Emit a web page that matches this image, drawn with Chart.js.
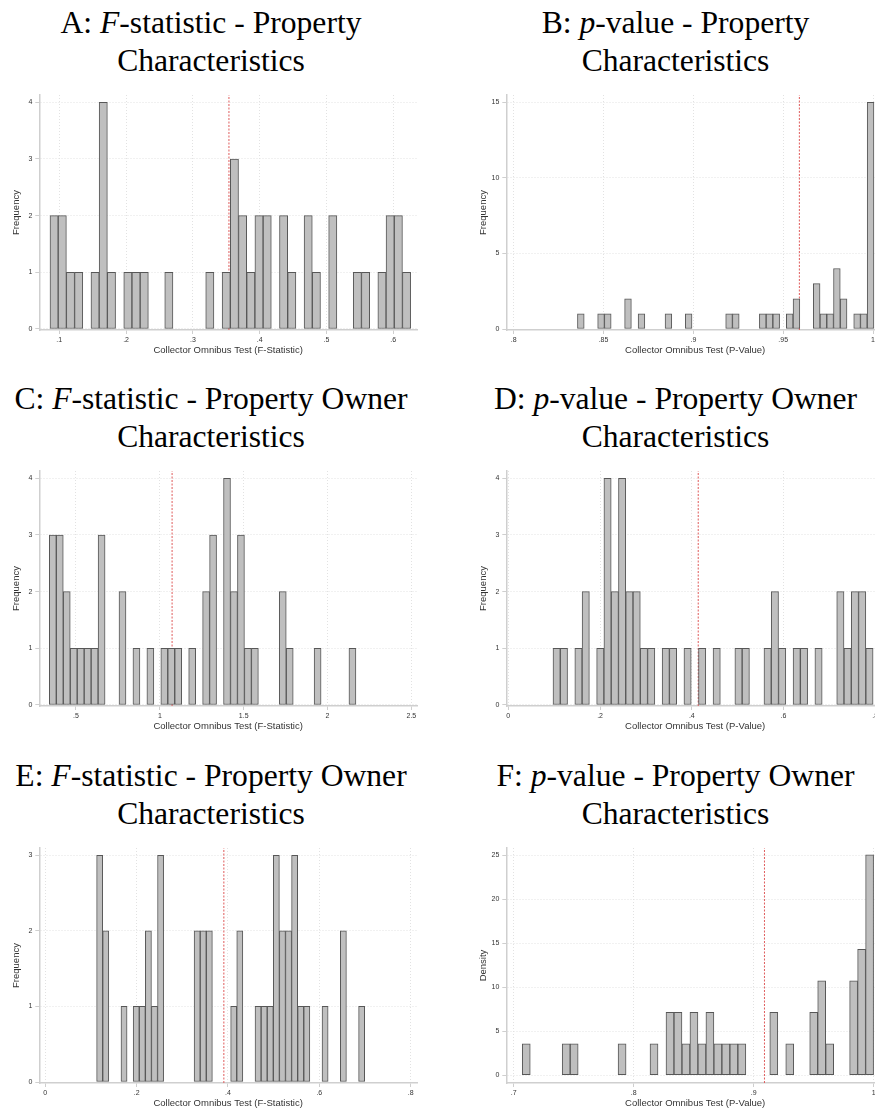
<!DOCTYPE html>
<html lang="en">
<head>
<meta charset="UTF-8">
<title>Collector Omnibus Test - randomization histograms</title>
<script src="https://cdn.jsdelivr.net/npm/chart.js"></script>
<style>
  html, body { margin: 0; padding: 0; background: #fff; overflow: hidden; }
  body { width: 875px; height: 1109px; position: relative; }
  .titulo {
    position: absolute; width: 440px; text-align: center;
    font-family: "Liberation Serif", "Times New Roman", serif;
    font-size: 31.6px; line-height: 38px; color: #000;
  }
  .painel { position: absolute; width: 430px; height: 275px; }
</style>
</head>
<body>

<div class="titulo" style="left:-9px;top:4px">A: <i>F</i>-statistic - Property<br>Characteristics</div>
<div class="titulo" style="left:455.5px;top:4px">B: <i>p</i>-value - Property<br>Characteristics</div>
<div class="titulo" style="left:-9px;top:380px">C: <i>F</i>-statistic - Property Owner<br>Characteristics</div>
<div class="titulo" style="left:455.5px;top:380px">D: <i>p</i>-value - Property Owner<br>Characteristics</div>
<div class="titulo" style="left:-9px;top:757px">E: <i>F</i>-statistic - Property Owner<br>Characteristics</div>
<div class="titulo" style="left:455.5px;top:757px">F: <i>p</i>-value - Property Owner<br>Characteristics</div>

<div class="painel" style="left:0;top:85px"><canvas id="gA"></canvas></div>
<div class="painel" style="left:467.4px;top:85px"><canvas id="gB"></canvas></div>
<div class="painel" style="left:0;top:461px"><canvas id="gC"></canvas></div>
<div class="painel" style="left:467.4px;top:461px"><canvas id="gD"></canvas></div>
<div class="painel" style="left:0;top:838px"><canvas id="gE"></canvas></div>
<div class="painel" style="left:467.4px;top:838px"><canvas id="gF"></canvas></div>

<script>
// histogram bins: [first edge, bin width]; counts per bin
const binsA = [0.0861, 0.01227]
const countsA = [2,2,1,1,0,1,4,1,0,1, 1,1,0,0,1,0,0,0,0,1, 0,1,3,2,1,2,2,0,2,1, 0,2,1,0,2,0,0,1,1,0, 1,2,2,1]
const refA = 0.354
const xTicksA = [0.1, 0.2, 0.3, 0.4, 0.5, 0.6]
const xLabelsA = ['.1', '.2', '.3', '.4', '.5', '.6']
const yTicksA = [0, 1, 2, 3, 4]
const xRangeA = [0.0701, 0.6355]
const yRangeA = [-0.018, 4.129]

const binsB = [0.8355, 0.00375]
const countsB = [1,0,0,1,1,0,0,2,0,1, 0,0,0,1,0,0,1,0,0,0, 0,0,1,1,0,0,0,1,1,1, 0,1,2,0,0,3,1,1,4,2, 0,1,1,15]
const refB = 0.959
const xTicksB = [0.8, 0.85, 0.9, 0.95, 1]
const xLabelsB = ['.8', '.85', '.9', '.95', '1']
const yTicksB = [0, 5, 10, 15]
const xRangeB = [0.7959, 1.0061]
const yRangeB = [-0.066, 15.48]

const binsC = [0.341, 0.04155]
const countsC = [3,3,2,1,1,1,1,3,0,0, 2,0,1,0,1,0,1,1,1,0, 1,0,2,3,0,4,2,3,1,1, 0,0,0,2,1,0,0,0,1,0, 0,0,0,1]
const refC = 1.073
const xTicksC = [0.5, 1, 1.5, 2, 2.5]
const xLabelsC = ['.5', '1', '1.5', '2', '2.5']
const yTicksC = [0, 1, 2, 3, 4]
const xRangeC = [0.2812, 2.5334]
const yRangeC = [-0.018, 4.129]

const binsD = [0.0974, 0.01586]
const countsD = [1,1,0,1,2,0,1,4,2,4, 2,2,1,1,0,1,1,0,1,0, 1,0,1,0,0,1,1,0,0,1, 2,1,0,1,1,0,1,0,0,2, 1,2,2,1]
const refD = 0.414
const xTicksD = [0, 0.2, 0.4, 0.6, 0.8]
const xLabelsD = ['0', '.2', '.4', '.6', '.8']
const yTicksD = [0, 1, 2, 3, 4]
const xRangeD = [-0.0044, 0.819]
const yRangeD = [-0.018, 4.129]

const binsE = [0.1124, 0.01334]
const countsE = [3,2,0,0,1,0,1,1,2,1, 3,0,0,0,0,0,2,2,2,0, 0,0,1,2,0,0,1,1,1,3, 2,2,3,1,1,0,0,1,0,0, 2,0,0,1]
const refE = 0.391
const xTicksE = [0, 0.2, 0.4, 0.6, 0.8]
const xLabelsE = ['0', '.2', '.4', '.6', '.8']
const yTicksE = [0, 1, 2, 3]
const xRangeE = [-0.0131, 0.8139]
const yRangeE = [-0.0132, 3.097]

// panel F is on the density scale
const binsF = [0.7072, 0.006653]
const densityF = [3.58,0,0,0,0,3.58,3.58,0,0,0, 0,0,3.58,0,0,0,3.58,0,7.16,7.16, 3.58,7.16,3.58,7.16,3.58,3.58,3.58,3.58,0,0, 0,7.16,0,3.58,0,0,7.16,10.74,3.58,0, 0,10.74,14.32,25.05]
const refF = 0.909
const xTicksF = [0.7, 0.8, 0.9, 1]
const xLabelsF = ['.7', '.8', '.9', '1']
const yTicksF = [0, 5, 10, 15, 20, 25]
const xRangeF = [0.6939, 1.0086]
const yRangeF = [-0.878, 25.83]

const fonte = '"Liberation Sans", Arial, Helvetica, sans-serif'
const corEixo = '#cfcfcf'
const corGrade = '#e2e2e2'
const corTexto = '#333'

function histograma(id, bins, valores, ref, xTicks, xLabels, yTicks, xRange, yRange, xTitulo, yTitulo) {
  const barras = valores.map((v, i) => ({ x: bins[0] + (i + 0.5) * bins[1], y: v === 0 ? null : v }))
  const eixoComum = {
    type: 'linear',
    offset: false,
    grid: { offset: false, color: corGrade, lineWidth: 1, drawTicks: true, tickLength: 4, tickColor: corEixo, tickWidth: 1 },
    border: { display: true, color: corEixo, width: 1.5, dash: [1, 2] }
  }
  return new Chart(document.getElementById(id), {
    type: 'bar',
    data: {
      datasets: [
        {
          // reference line sits behind the bars
          type: 'line',
          data: [{ x: ref, y: yRange[0] }, { x: ref, y: yRange[1] }],
          borderColor: '#df5b5b',
          borderWidth: 1,
          borderDash: [2, 1.5],
          pointRadius: 0,
          order: 2
        },
        {
          type: 'bar',
          data: barras,
          backgroundColor: '#bfbfbf',
          borderColor: '#575757',
          borderWidth: 1,
          borderSkipped: false,
          barPercentage: 1,
          categoryPercentage: 1,
          order: 1
        }
      ]
    },
    options: {
      responsive: true,
      maintainAspectRatio: false,
      animation: false,
      layout: { padding: { top: 10, right: 13, left: 0, bottom: 0 } },
      plugins: { legend: { display: false }, tooltip: { enabled: false } },
      scales: {
        x: {
          ...eixoComum,
          min: xRange[0],
          max: xRange[1],
          ticks: {
            font: { family: fonte, size: 7 }, color: corTexto, padding: 2,
            maxRotation: 0, autoSkip: false,
            callback: (v, i) => xLabels[i]
          },
          title: { display: true, text: xTitulo, font: { family: fonte, size: 9.5 }, color: corTexto, padding: { top: 0, bottom: 4 } },
          afterBuildTicks: s => { s.ticks = xTicks.map(v => ({ value: v })) },
          afterFit: s => { s.height = 30 }
        },
        y: {
          ...eixoComum,
          min: yRange[0],
          max: yRange[1],
          ticks: {
            font: { family: fonte, size: 7 }, color: corTexto, padding: 3,
            autoSkip: false,
            callback: v => String(v)
          },
          title: { display: true, text: yTitulo, font: { family: fonte, size: 9.5 }, color: corTexto, padding: { top: 11, bottom: 0 } },
          afterBuildTicks: s => { s.ticks = yTicks.map(v => ({ value: v })) },
          afterFit: s => { s.width = 39.3 }
        }
      }
    }
  })
}

const tituloF = 'Collector Omnibus Test (F-Statistic)'
const tituloP = 'Collector Omnibus Test (P-Value)'

histograma('gA', binsA, countsA, refA, xTicksA, xLabelsA, yTicksA, xRangeA, yRangeA, tituloF, 'Frequency')
histograma('gB', binsB, countsB, refB, xTicksB, xLabelsB, yTicksB, xRangeB, yRangeB, tituloP, 'Frequency')
histograma('gC', binsC, countsC, refC, xTicksC, xLabelsC, yTicksC, xRangeC, yRangeC, tituloF, 'Frequency')
histograma('gD', binsD, countsD, refD, xTicksD, xLabelsD, yTicksD, xRangeD, yRangeD, tituloP, 'Frequency')
histograma('gE', binsE, countsE, refE, xTicksE, xLabelsE, yTicksE, xRangeE, yRangeE, tituloF, 'Frequency')
histograma('gF', binsF, densityF, refF, xTicksF, xLabelsF, yTicksF, xRangeF, yRangeF, tituloP, 'Density')
</script>
</body>
</html>
